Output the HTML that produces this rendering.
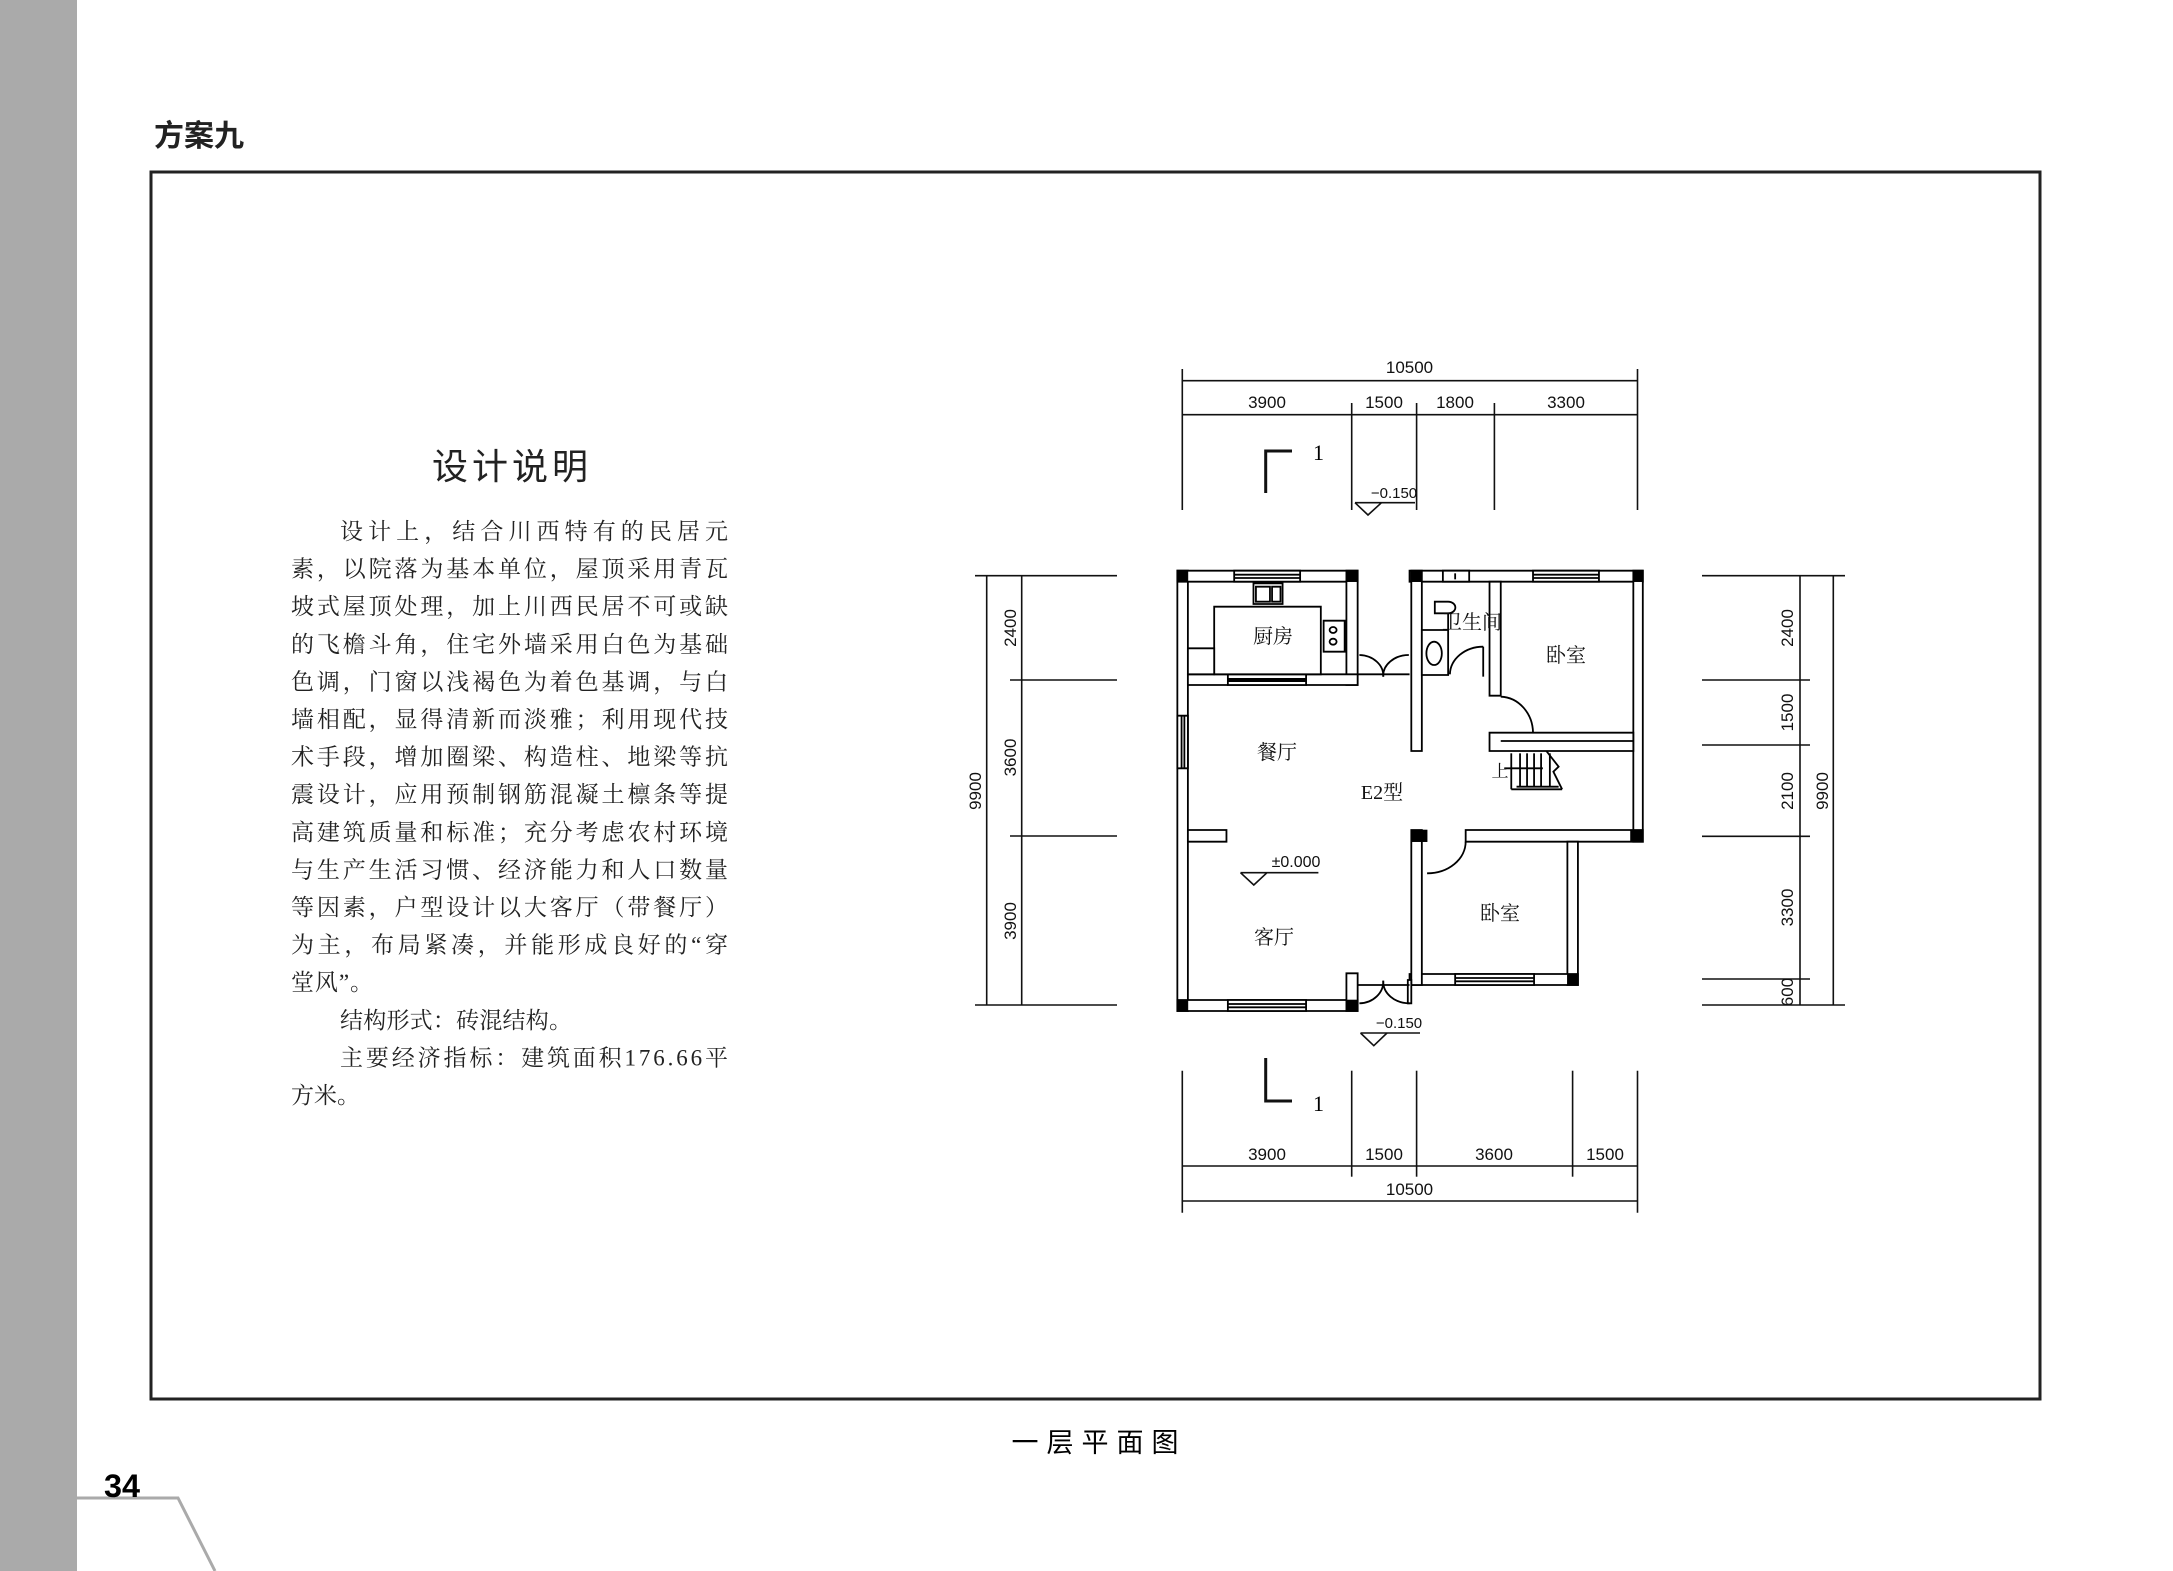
<!DOCTYPE html>
<html><head><meta charset="utf-8"><style>
html,body{margin:0;padding:0;background:#fff;}
svg{display:block;}
.s{font-family:"Liberation Sans","Noto Sans CJK SC",sans-serif;}
.r{font-family:"Liberation Serif","Noto Serif CJK SC",serif;}
</style></head><body>
<svg width="2173" height="1571" viewBox="0 0 2173 1571" xmlns="http://www.w3.org/2000/svg">
<rect x="0" y="0" width="77" height="1571" fill="#aaaaaa"/>
<polyline points="77,1498 178,1498 215,1571" fill="none" stroke="#aaa" stroke-width="3"/>
<text x="104" y="1497" class="s" font-size="32" font-weight="bold" textLength="36" lengthAdjust="spacingAndGlyphs">34</text>
<text x="154" y="146" class="s" font-size="30" font-weight="bold" fill="#222">方案九</text>
<rect x="151" y="172" width="1889" height="1227" fill="none" stroke="#222" stroke-width="3"/>
<text x="1099" y="1452" class="s" font-size="27" text-anchor="middle" letter-spacing="8">一层平面图</text>

<text x="512" y="479" class="s" font-size="36" text-anchor="middle" letter-spacing="4" fill="#222">设计说明</text>
<g class="r" font-size="23" fill="#222">
<text x="340" y="539" textLength="388" lengthAdjust="spacing">设计上，结合川西特有的民居元</text>
<text x="291" y="576.6" textLength="437" lengthAdjust="spacing">素，以院落为基本单位，屋顶采用青瓦</text>
<text x="291" y="614.2" textLength="437" lengthAdjust="spacing">坡式屋顶处理，加上川西民居不可或缺</text>
<text x="291" y="651.8" textLength="437" lengthAdjust="spacing">的飞檐斗角，住宅外墙采用白色为基础</text>
<text x="291" y="689.4" textLength="437" lengthAdjust="spacing">色调，门窗以浅褐色为着色基调，与白</text>
<text x="291" y="727" textLength="437" lengthAdjust="spacing">墙相配，显得清新而淡雅；利用现代技</text>
<text x="291" y="764.6" textLength="437" lengthAdjust="spacing">术手段，增加圈梁、构造柱、地梁等抗</text>
<text x="291" y="802.2" textLength="437" lengthAdjust="spacing">震设计，应用预制钢筋混凝土檩条等提</text>
<text x="291" y="839.8" textLength="437" lengthAdjust="spacing">高建筑质量和标准；充分考虑农村环境</text>
<text x="291" y="877.4" textLength="437" lengthAdjust="spacing">与生产生活习惯、经济能力和人口数量</text>
<text x="291" y="915" textLength="437" lengthAdjust="spacing">等因素，户型设计以大客厅（带餐厅）</text>
<text x="291" y="952.6" textLength="437" lengthAdjust="spacing">为主，布局紧凑，并能形成良好的“穿</text>
<text x="291" y="990.2" textLength="82" lengthAdjust="spacing">堂风”。</text>
<text x="340" y="1027.8" textLength="232" lengthAdjust="spacing">结构形式：砖混结构。</text>
<text x="340" y="1065.4" textLength="388" lengthAdjust="spacing">主要经济指标：建筑面积176.66平</text>
<text x="291" y="1103">方米。</text>
</g>

<!-- dimensions -->
<g stroke="#111" stroke-width="1.6" fill="none">
<!-- top -->
<line x1="1182" y1="380.7" x2="1638" y2="380.7"/>
<line x1="1182" y1="414.7" x2="1638" y2="414.7"/>
<line x1="1182.3" y1="369" x2="1182.3" y2="510"/>
<line x1="1637.5" y1="369" x2="1637.5" y2="510"/>
<line x1="1351.7" y1="403" x2="1351.7" y2="510"/>
<line x1="1416.6" y1="403" x2="1416.6" y2="510"/>
<line x1="1494.4" y1="403" x2="1494.4" y2="510"/>
<!-- bottom -->
<line x1="1182" y1="1166" x2="1638" y2="1166"/>
<line x1="1182" y1="1201" x2="1638" y2="1201"/>
<line x1="1182.3" y1="1070.7" x2="1182.3" y2="1212.7"/>
<line x1="1637.5" y1="1070.7" x2="1637.5" y2="1212.7"/>
<line x1="1351.7" y1="1070.7" x2="1351.7" y2="1176.7"/>
<line x1="1416.6" y1="1070.7" x2="1416.6" y2="1176.7"/>
<line x1="1572.6" y1="1070.7" x2="1572.6" y2="1176.7"/>
<!-- left -->
<line x1="986.7" y1="575.7" x2="986.7" y2="1005"/>
<line x1="1021.7" y1="575.7" x2="1021.7" y2="1005"/>
<line x1="975" y1="575.7" x2="1117" y2="575.7"/>
<line x1="975" y1="1005" x2="1117" y2="1005"/>
<line x1="1010" y1="680" x2="1117" y2="680"/>
<line x1="1010" y1="836" x2="1117" y2="836"/>
<!-- right -->
<line x1="1800" y1="575.7" x2="1800" y2="1005"/>
<line x1="1833.3" y1="575.7" x2="1833.3" y2="1005"/>
<line x1="1702" y1="575.7" x2="1845" y2="575.7"/>
<line x1="1702" y1="1005" x2="1845" y2="1005"/>
<line x1="1702" y1="680" x2="1810" y2="680"/>
<line x1="1702" y1="745" x2="1810" y2="745"/>
<line x1="1702" y1="836.3" x2="1810" y2="836.3"/>
<line x1="1702" y1="979" x2="1810" y2="979"/>
<!-- section marks -->
<polyline points="1292,451 1265.7,451 1265.7,493" stroke-width="3"/>
<polyline points="1265.7,1058 1265.7,1101 1292,1101" stroke-width="3"/>
<!-- elevation marks -->
<polyline points="1355,502.7 1415,502.7"/>
<polyline points="1355,502.7 1368,515 1381.5,502.7"/>
<polyline points="1360.5,1033 1420,1033"/>
<polyline points="1360.5,1033 1373.8,1045.7 1387,1033"/>
<polyline points="1240.5,872.7 1318.4,872.7"/>
<polyline points="1240.5,872.7 1253.8,885 1267,872.7"/>
</g>
<g class="s" font-size="17" fill="#111" text-anchor="middle">
<text x="1409.5" y="373">10500</text>
<text x="1267" y="408">3900</text>
<text x="1384" y="408">1500</text>
<text x="1455" y="408">1800</text>
<text x="1566" y="408">3300</text>
<text x="1267" y="1160">3900</text>
<text x="1384" y="1160">1500</text>
<text x="1494" y="1160">3600</text>
<text x="1605" y="1160">1500</text>
<text x="1409.5" y="1195">10500</text>
<text transform="translate(1016,628) rotate(-90)">2400</text>
<text transform="translate(1016,757.5) rotate(-90)">3600</text>
<text transform="translate(1016,921) rotate(-90)">3900</text>
<text transform="translate(981,791) rotate(-90)">9900</text>
<text transform="translate(1793,628) rotate(-90)">2400</text>
<text transform="translate(1793,712.5) rotate(-90)">1500</text>
<text transform="translate(1793,791) rotate(-90)">2100</text>
<text transform="translate(1793,907.5) rotate(-90)">3300</text>
<text transform="translate(1793,992) rotate(-90)">600</text>
<text transform="translate(1828,791) rotate(-90)">9900</text>
<text x="1394" y="498" font-size="15">−0.150</text>
<text x="1399" y="1028" font-size="15">−0.150</text>
<text x="1296" y="867" font-size="16">±0.000</text>
</g>
<text x="1313" y="460" class="r" font-size="22">1</text>
<text x="1313" y="1111" class="r" font-size="22">1</text>

<!-- floor plan in zoom coords -->
<g transform="translate(1150,550) scale(0.35075,0.33333)" fill="#fff" stroke="#000" stroke-width="1.8">
<g vector-effect="non-scaling-stroke">
<!-- outer walls -->
<rect x="78" y="62" width="30" height="1321" vector-effect="non-scaling-stroke"/>
<rect x="78" y="62" width="514" height="33" vector-effect="non-scaling-stroke"/>
<rect x="560" y="62" width="32" height="343" vector-effect="non-scaling-stroke"/>
<rect x="108" y="373" width="484" height="32" vector-effect="non-scaling-stroke"/>
<rect x="740" y="62" width="665" height="33" vector-effect="non-scaling-stroke"/>
<rect x="745" y="62" width="30" height="541" vector-effect="non-scaling-stroke"/>
<rect x="1378" y="62" width="27" height="813" vector-effect="non-scaling-stroke"/>
<rect x="968" y="95" width="32" height="342" vector-effect="non-scaling-stroke"/>
<rect x="968" y="548" width="410" height="55" vector-effect="non-scaling-stroke"/>
<line x1="1000" y1="573" x2="1378" y2="573" vector-effect="non-scaling-stroke"/>
<rect x="900" y="840" width="505" height="35" vector-effect="non-scaling-stroke"/>
<rect x="1190" y="875" width="30" height="430" vector-effect="non-scaling-stroke"/>
<rect x="740" y="1272" width="480" height="33" vector-effect="non-scaling-stroke"/>
<rect x="745" y="840" width="30" height="465" vector-effect="non-scaling-stroke"/>
<rect x="108" y="840" width="110" height="35" vector-effect="non-scaling-stroke"/>
<rect x="78" y="1350" width="514" height="33" vector-effect="non-scaling-stroke"/>
<rect x="560" y="1270" width="32" height="113" vector-effect="non-scaling-stroke"/>
<rect x="735" y="1290" width="10" height="70" vector-effect="non-scaling-stroke"/>
<!-- windows -->
<rect x="240" y="62" width="188" height="33" vector-effect="non-scaling-stroke"/>
<line x1="240" y1="74" x2="428" y2="74" vector-effect="non-scaling-stroke"/>
<line x1="240" y1="84" x2="428" y2="84" vector-effect="non-scaling-stroke"/>
<rect x="1092" y="62" width="188" height="33" vector-effect="non-scaling-stroke"/>
<line x1="1092" y1="74" x2="1280" y2="74" vector-effect="non-scaling-stroke"/>
<line x1="1092" y1="84" x2="1280" y2="84" vector-effect="non-scaling-stroke"/>
<rect x="835" y="62" width="75" height="33" vector-effect="non-scaling-stroke"/>
<line x1="870" y1="70" x2="870" y2="88" vector-effect="non-scaling-stroke"/>
<rect x="78" y="497" width="30" height="158" vector-effect="non-scaling-stroke"/>
<line x1="90" y1="497" x2="90" y2="655" vector-effect="non-scaling-stroke"/>
<line x1="98" y1="497" x2="98" y2="655" vector-effect="non-scaling-stroke"/>
<rect x="222" y="1350" width="223" height="33" vector-effect="non-scaling-stroke"/>
<line x1="222" y1="1362" x2="445" y2="1362" vector-effect="non-scaling-stroke"/>
<line x1="222" y1="1372" x2="445" y2="1372" vector-effect="non-scaling-stroke"/>
<rect x="870" y="1272" width="225" height="33" vector-effect="non-scaling-stroke"/>
<line x1="870" y1="1284" x2="1095" y2="1284" vector-effect="non-scaling-stroke"/>
<line x1="870" y1="1294" x2="1095" y2="1294" vector-effect="non-scaling-stroke"/>
<rect x="222" y="373" width="223" height="32" vector-effect="non-scaling-stroke"/>
<line x1="222" y1="390" x2="445" y2="390" stroke-width="4" vector-effect="non-scaling-stroke"/>
<!-- columns -->
<g fill="#000">
<rect x="78" y="62" width="30" height="33"/><rect x="560" y="62" width="32" height="33"/>
<rect x="745" y="62" width="30" height="33"/><rect x="1378" y="62" width="27" height="33"/>
<rect x="78" y="1350" width="30" height="33"/><rect x="560" y="1350" width="32" height="33"/>
<rect x="1370" y="840" width="35" height="35"/><rect x="1190" y="1272" width="30" height="33"/>
<rect x="745" y="840" width="45" height="35"/>
</g>
<!-- kitchen fixtures -->
<rect x="183" y="170" width="304" height="203" vector-effect="non-scaling-stroke"/>
<rect x="108" y="295" width="75" height="78" vector-effect="non-scaling-stroke"/>
<rect x="295" y="100" width="83" height="62" vector-effect="non-scaling-stroke"/>
<rect x="302" y="110" width="40" height="45" vector-effect="non-scaling-stroke"/>
<rect x="348" y="110" width="24" height="45" vector-effect="non-scaling-stroke"/>
<rect x="495" y="212" width="60" height="93" vector-effect="non-scaling-stroke"/>
<ellipse cx="522" cy="240" rx="10" ry="9" vector-effect="non-scaling-stroke"/>
<ellipse cx="522" cy="275" rx="10" ry="9" vector-effect="non-scaling-stroke"/>
<!-- bath fixtures -->
<rect x="775" y="240" width="75" height="135" vector-effect="non-scaling-stroke"/>
<ellipse cx="810" cy="310" rx="22" ry="35" vector-effect="non-scaling-stroke"/>
<path d="M812,155 L850,155 A20,17 0 0 1 850,190 L812,190 Z" vector-effect="non-scaling-stroke"/>
<line x1="850" y1="190" x2="850" y2="240" vector-effect="non-scaling-stroke"/>
<line x1="950" y1="290" x2="950" y2="380" vector-effect="non-scaling-stroke"/>
<!-- doors -->
<g fill="none">
<line x1="592" y1="373" x2="740" y2="373" vector-effect="non-scaling-stroke"/>
<path d="M597,315 A70,62 0 0 1 665,380" vector-effect="non-scaling-stroke"/>
<path d="M738,315 A73,62 0 0 0 665,380" vector-effect="non-scaling-stroke"/>
<path d="M855,373 A95,85 0 0 1 950,290" vector-effect="non-scaling-stroke"/>
<path d="M1000,440 A95,110 0 0 1 1092,548" vector-effect="non-scaling-stroke"/>
<path d="M790,970 A110,95 0 0 0 900,875" vector-effect="non-scaling-stroke"/>
<line x1="592" y1="1305" x2="740" y2="1305" vector-effect="non-scaling-stroke"/>
<path d="M597,1360 A70,65 0 0 0 665,1292" vector-effect="non-scaling-stroke"/>
<path d="M740,1360 A75,65 0 0 1 665,1292" vector-effect="non-scaling-stroke"/>
<!-- stairs -->
<line x1="1030" y1="610" x2="1030" y2="718" vector-effect="non-scaling-stroke"/>
<line x1="1055" y1="610" x2="1055" y2="710" vector-effect="non-scaling-stroke"/>
<line x1="1075" y1="610" x2="1075" y2="710" vector-effect="non-scaling-stroke"/>
<line x1="1095" y1="610" x2="1095" y2="710" vector-effect="non-scaling-stroke"/>
<line x1="1115" y1="610" x2="1115" y2="710" vector-effect="non-scaling-stroke"/>
<line x1="1140" y1="610" x2="1140" y2="710" vector-effect="non-scaling-stroke"/>
<line x1="1030" y1="718" x2="1175" y2="718" vector-effect="non-scaling-stroke"/>
<line x1="1045" y1="710" x2="1165" y2="710" vector-effect="non-scaling-stroke"/>
<polyline points="1130,603 1165,650 1150,665 1175,718" vector-effect="non-scaling-stroke"/>
<line x1="1010" y1="655" x2="1120" y2="655" vector-effect="non-scaling-stroke"/>
</g>
</g>
</g>
<g class="r" font-size="20" fill="#111" text-anchor="middle">
<text x="1273" y="643">厨房</text>
<text x="1472" y="629">卫生间</text>
<text x="1566" y="662">卧室</text>
<text x="1277" y="759">餐厅</text>
<text x="1382" y="799">E2型</text>
<text x="1500" y="920">卧室</text>
<text x="1274" y="944">客厅</text>
<text x="1500" y="777" font-size="17">上</text>
</g>
</svg>
</body></html>
